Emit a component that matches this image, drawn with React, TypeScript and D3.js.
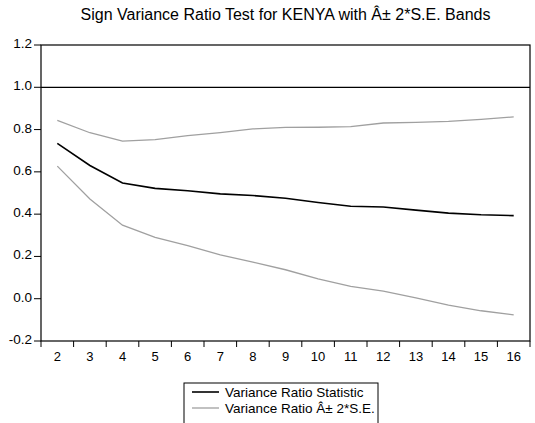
import React from "react";
import * as d3 from "d3";

const lags = [2, 3, 4, 5, 6, 7, 8, 9, 10, 11, 12, 13, 14, 15, 16];
const vrStat = [0.735, 0.630, 0.547, 0.522, 0.511, 0.496, 0.488, 0.475, 0.455, 0.437, 0.434, 0.419, 0.405, 0.397, 0.393];
const upperBand = [0.843, 0.785, 0.745, 0.752, 0.771, 0.786, 0.803, 0.810, 0.811, 0.814, 0.831, 0.834, 0.839, 0.848, 0.860];
const lowerBand = [0.627, 0.472, 0.348, 0.290, 0.251, 0.207, 0.173, 0.137, 0.094, 0.058, 0.036, 0.004, -0.030, -0.057, -0.076];
const yTicks = [-0.2, 0.0, 0.2, 0.4, 0.6, 0.8, 1.0, 1.2];
const refValue = 1.0;
const title = "Sign Variance Ratio Test for KENYA with Â± 2*S.E. Bands";
const legendLabels = ["Variance Ratio Statistic", "Variance Ratio Â± 2*S.E."];

const W = 535;
const H = 423;
const left = 41;
const right = 530;
const top = 45;
const bottom = 341;
const FONT = "'Liberation Sans', Arial, sans-serif";

export default function App() {
  const x = d3.scaleBand<number>().domain(lags).range([left, right]).padding(0);
  const y = d3.scaleLinear().domain([-0.2, 1.2]).range([bottom, top]);
  const cx = (d: number) => (x(d) as number) + x.bandwidth() / 2;

  const line = (vals: number[]) =>
    d3
      .line<number>()
      .x((_, i) => cx(lags[i]))
      .y((v) => y(v))(vals) as string;

  const tickEdges = lags.map((d) => x(d) as number).concat([right]);

  return (
    <svg
      width={W}
      height={H}
      style={{ position: "absolute", left: 0, top: 0, background: "#fff" }}
      fontFamily={FONT}
    >
      <rect x={0} y={0} width={W} height={H} fill="#fff" />
      <text x={(left + right) / 2} y={20} textAnchor="middle" fontSize={16} fill="#000">
        {title}
      </text>

      {/* frame */}
      <rect x={left} y={top} width={right - left} height={bottom - top} fill="none" stroke="#000" strokeWidth={1.2} />

      {/* y ticks */}
      {yTicks.map((t) => (
        <g key={t}>
          <line x1={left - 7} x2={left} y1={y(t)} y2={y(t)} stroke="#000" strokeWidth={1} />
          <text x={left - 9} y={y(t) + 3} textAnchor="end" fontSize={13.5} fill="#000">
            {t.toFixed(1)}
          </text>
        </g>
      ))}

      {/* x ticks */}
      {tickEdges.map((e, i) => (
        <line key={i} x1={e} x2={e} y1={bottom} y2={bottom + 6} stroke="#000" strokeWidth={1} />
      ))}
      {lags.map((d) => (
        <text key={d} x={cx(d)} y={bottom + 20} textAnchor="middle" fontSize={13} fill="#000">
          {d}
        </text>
      ))}

      {/* reference line */}
      <line x1={left} x2={right} y1={y(refValue)} y2={y(refValue)} stroke="#000" strokeWidth={1.2} />

      {/* series */}
      <path d={line(upperBand)} fill="none" stroke="#a0a0a0" strokeWidth={1.3} />
      <path d={line(lowerBand)} fill="none" stroke="#a0a0a0" strokeWidth={1.3} />
      <path d={line(vrStat)} fill="none" stroke="#000" strokeWidth={1.6} />

      {/* legend */}
      <rect x={184} y={383} width={194} height={60} fill="#fff" stroke="#000" strokeWidth={1} />
      <line x1={192} x2={219} y1={392} y2={392} stroke="#000" strokeWidth={1.6} />
      <line x1={192} x2={219} y1={408} y2={408} stroke="#a0a0a0" strokeWidth={1.3} />
      <text x={225} y={397} fontSize={13.5} fill="#000">{legendLabels[0]}</text>
      <text x={225} y={413} fontSize={13.5} fill="#000">{legendLabels[1]}</text>
    </svg>
  );
}
